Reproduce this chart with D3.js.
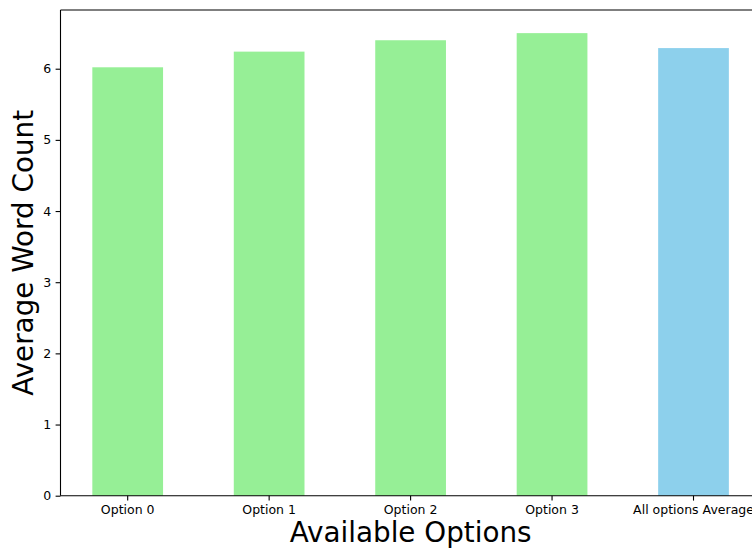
<!DOCTYPE html>
<html>
<head>
<meta charset="utf-8">
<script src="https://cdn.jsdelivr.net/npm/d3@7"></script>
<style>
  html, body { margin: 0; padding: 0; background: #fff; overflow: hidden; }
  svg { display: block; font-family: "DejaVu Sans", sans-serif; }
</style>
</head>
<body>
<svg id="chart" width="752" height="553"></svg>
<script>
const categories = ["Option 0", "Option 1", "Option 2", "Option 3", "All options Average"];
const values = [6.02, 6.24, 6.40, 6.50, 6.29];
const barColors = ["#90ee90", "#90ee90", "#90ee90", "#90ee90", "#87ceeb"];
const yTicks = [0, 1, 2, 3, 4, 5, 6];
const xTitle = "Available Options";
const yTitle = "Average Word Count";

const svg = d3.select("#chart");
const mLeft = 60.5, mRight = 760.7, mTop = 10, mBottom = 495.7;

const x = d3.scaleBand().domain(categories).range([mLeft, mRight])
  .paddingInner(0.5).paddingOuter(0.225);
const y = d3.scaleLinear().domain([0, d3.max(values) * 1.05]).range([mBottom, mTop]);

svg.append("g").selectAll("rect").data(categories).join("rect")
  .attr("x", d => x(d))
  .attr("y", (d, i) => y(values[i]))
  .attr("width", x.bandwidth())
  .attr("height", (d, i) => y(0) - y(values[i]))
  .attr("fill", (d, i) => barColors[i])
  .attr("fill-opacity", 0.95);

const yAxis = svg.append("g").attr("transform", `translate(${mLeft},0)`)
  .call(d3.axisLeft(y).tickValues(yTicks).tickFormat(d3.format("d")).tickSize(4.9).tickPadding(4.5));
const xAxis = svg.append("g").attr("transform", `translate(0,${mBottom})`)
  .call(d3.axisBottom(x).tickSize(4.9).tickPadding(4.5));

[yAxis, xAxis].forEach(g => {
  g.select(".domain").remove();
  g.selectAll(".tick line").attr("stroke", "#000").attr("stroke-width", 1.1);
  g.selectAll(".tick text").attr("fill", "#000").style("font-size", "12.5px")
    .style("font-family", "DejaVu Sans, sans-serif");
});

const spine = svg.append("g").attr("fill", "none").attr("stroke", "#000").attr("stroke-width", 1.1);
spine.append("line").attr("x1", mLeft).attr("x2", mLeft).attr("y1", mTop).attr("y2", mBottom);
spine.append("line").attr("x1", mLeft).attr("x2", mRight).attr("y1", mBottom).attr("y2", mBottom);
spine.append("line").attr("x1", mLeft).attr("x2", mRight).attr("y1", mTop).attr("y2", mTop);
spine.append("line").attr("x1", mRight).attr("x2", mRight).attr("y1", mTop).attr("y2", mBottom);

svg.append("text")
  .attr("x", (mLeft + mRight) / 2).attr("y", 541.5)
  .attr("text-anchor", "middle")
  .style("font-size", "27.8px").attr("fill", "#000")
  .text(xTitle);

svg.append("text")
  .attr("transform", `translate(33,${(mTop + mBottom) / 2}) rotate(-90)`)
  .attr("text-anchor", "middle")
  .style("font-size", "27.8px").attr("fill", "#000")
  .text(yTitle);
</script>
</body>
</html>
